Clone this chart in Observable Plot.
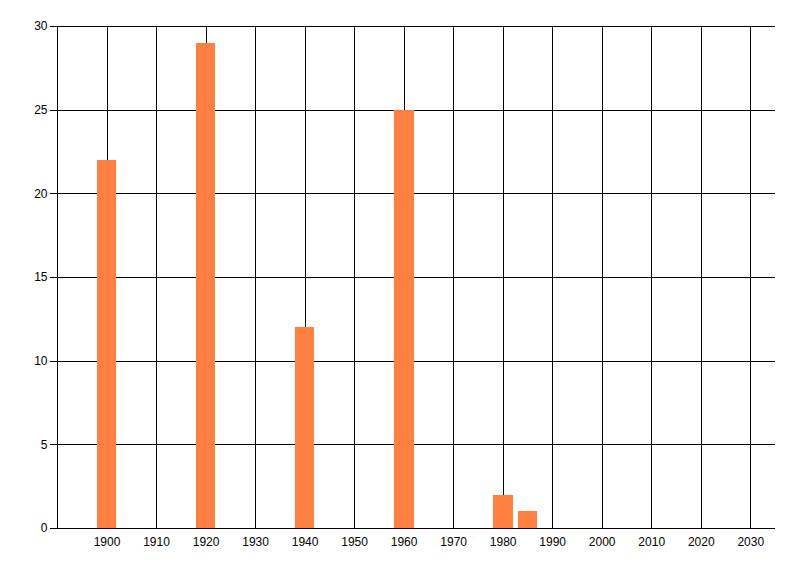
<!DOCTYPE html>
<html>
<head>
<meta charset="utf-8">
<script src="https://cdn.jsdelivr.net/npm/d3@7"></script>
<script src="https://cdn.jsdelivr.net/npm/@observablehq/plot@0.6"></script>
<style>
  html, body { margin: 0; padding: 0; background: #fff; }
</style>
</head>
<body>
<div id="chart"></div>
<script>
const years = [1900, 1920, 1940, 1960, 1980, 1985];
const counts = [22, 29, 12, 25, 2, 1];
const xTicks = [1900, 1910, 1920, 1930, 1940, 1950, 1960, 1970, 1980, 1990, 2000, 2010, 2020, 2030];
const yTicks = [0, 5, 10, 15, 20, 25, 30];

const data = years.map((y, i) => ({year: y, count: counts[i]}));
const halfWidth = 2;

const chart = Plot.plot({
  width: 800,
  height: 576,
  marginTop: 26,
  marginLeft: 57,
  marginRight: 25,
  marginBottom: 48,
  style: {fontFamily: "'Liberation Sans Narrow', 'Liberation Sans', sans-serif", fontSize: "12px", color: "#000", background: "#fff"},
  x: {domain: [1890, 2035], ticks: xTicks, tickFormat: d => String(d)},
  y: {domain: [0, 30], ticks: yTicks},
  marks: [
    Plot.ruleY(yTicks, {stroke: "#000", strokeWidth: 1, strokeOpacity: 1, shapeRendering: "crispEdges"}),
    Plot.ruleX([1890, ...xTicks], {stroke: "#000", strokeWidth: 1, strokeOpacity: 1, shapeRendering: "crispEdges"}),
    Plot.rectY(data, {x1: d => d.year - halfWidth, x2: d => d.year + halfWidth, y: "count", fill: "#ff8040", shapeRendering: "crispEdges"}),
    Plot.axisY({ticks: yTicks, tickSize: 7, tickPadding: 3, label: null, stroke: "#000", strokeOpacity: 1, shapeRendering: "crispEdges"}),
    Plot.axisX({ticks: xTicks, tickSize: 0, tickPadding: 9, label: null, tickFormat: d => String(d)})
  ]
});
document.getElementById("chart").appendChild(chart);
</script>
</body>
</html>
